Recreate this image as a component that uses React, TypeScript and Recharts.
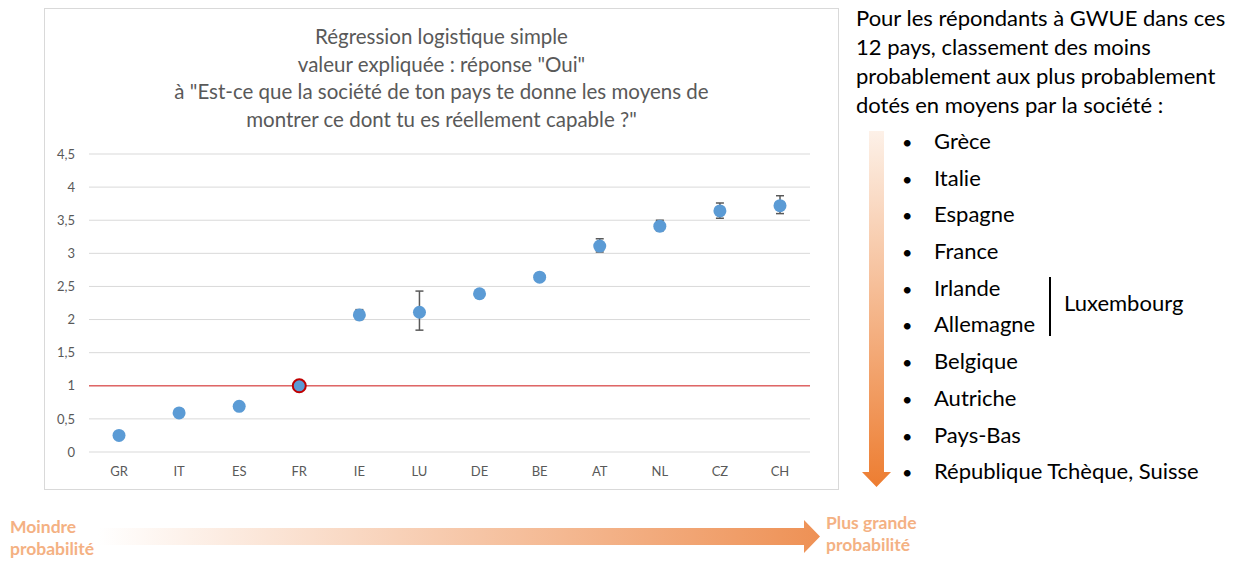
import React from "react";
import {
  ComposedChart,
  Line,
  XAxis,
  YAxis,
  CartesianGrid,
  ReferenceLine,
  ErrorBar,
} from "recharts";

const countries = ["GR", "IT", "ES", "FR", "IE", "LU", "DE", "BE", "AT", "NL", "CZ", "CH"];
const oddsRatios = [0.25, 0.59, 0.69, 1.0, 2.07, 2.11, 2.39, 2.64, 3.11, 3.41, 3.64, 3.72];
const errLow = [0, 0, 0, 0, 0.07, 0.27, 0, 0.04, 0.09, 0.07, 0.11, 0.12];
const errHigh = [0, 0, 0, 0, 0.08, 0.32, 0, 0.06, 0.11, 0.09, 0.12, 0.15];
const yTicks = [0, 0.5, 1, 1.5, 2, 2.5, 3, 3.5, 4, 4.5];

const titleLines = [
  "Régression logistique simple",
  "valeur expliquée : réponse \"Oui\"",
  "à \"Est-ce que la société de ton pays te donne les moyens de",
  "montrer ce dont tu es réellement capable ?\"",
];
const introLines = [
  "Pour les répondants à GWUE dans ces",
  "12 pays, classement des moins",
  "probablement aux plus probablement",
  "dotés en moyens par la société :",
];
const rankedCountries = [
  "Grèce",
  "Italie",
  "Espagne",
  "France",
  "Irlande",
  "Allemagne",
  "Belgique",
  "Autriche",
  "Pays-Bas",
  "République Tchèque, Suisse",
];

const chartData = countries.map((c, i) => ({
  country: c,
  value: oddsRatios[i],
  err: [errLow[i], errHigh[i]],
}));

const FONT = "Lato, 'Open Sans', sans-serif";

function Dot(props: any) {
  const { cx, cy, payload } = props;
  if (cx == null || cy == null) return null;
  const isRef = payload.country === "FR";
  return (
    <circle
      cx={cx}
      cy={cy}
      r={6.5}
      fill="#5B9BD5"
      stroke={isRef ? "#C00000" : "none"}
      strokeWidth={isRef ? 2 : 0}
    />
  );
}

export default function App() {
  return (
    <div
      style={{
        position: "absolute",
        left: 0,
        top: 0,
        width: 1236,
        height: 561,
        background: "#fff",
        fontFamily: FONT,
        overflow: "hidden",
      }}
    >
      {/* chart frame */}
      <div
        style={{
          position: "absolute",
          left: 44,
          top: 8,
          width: 795,
          height: 482,
          border: "1px solid #D9D9D9",
          boxSizing: "border-box",
        }}
      />
      <div style={{ position: "absolute", left: 44, top: 8 }}>
        <ComposedChart
          width={795}
          height={482}
          data={chartData}
          margin={{ top: 146, right: 29, left: 0, bottom: 0 }}
        >
          <CartesianGrid vertical={false} stroke="#D9D9D9" />
          <XAxis
            dataKey="country"
            height={38}
            padding={{ left: 30, right: 30 }}
            axisLine={false}
            tickLine={false}
            tickMargin={9}
            tick={{ fill: "#595959", fontSize: 13, fontFamily: FONT }}
          />
          <YAxis
            width={45}
            domain={[0, 4.5]}
            ticks={yTicks}
            axisLine={false}
            tickLine={false}
            tickMargin={8}
            tickFormatter={(v: number) => String(v).replace(".", ",")}
            tick={{ fill: "#595959", fontSize: 13, fontFamily: FONT }}
          />
          <ReferenceLine y={1} stroke="#E06666" strokeWidth={1.5} />
          <Line
            dataKey="value"
            stroke="none"
            strokeWidth={0}
            dot={<Dot />}
            activeDot={false}
            isAnimationActive={false}
          >
            <ErrorBar dataKey="err" direction="y" width={4} stroke="#595959" strokeWidth={1.5} />
          </Line>
        </ComposedChart>
        <div
          style={{
            position: "absolute",
            left: 0,
            top: 15,
            width: 795,
            textAlign: "center",
            color: "#595959",
            fontSize: 20.5,
            lineHeight: "27.5px",
            whiteSpace: "nowrap",
          }}
        >
          {titleLines.map((t) => (
            <div key={t}>{t}</div>
          ))}
        </div>
      </div>

      {/* right text */}
      <div
        style={{
          position: "absolute",
          left: 856,
          top: 3,
          fontSize: 22,
          lineHeight: "29px",
          color: "#000",
          whiteSpace: "nowrap",
        }}
      >
        {introLines.map((t) => (
          <div key={t}>{t}</div>
        ))}
      </div>
      <div style={{ position: "absolute", left: 902, top: 123, fontSize: 22, color: "#000" }}>
        {rankedCountries.map((t) => (
          <div key={t} style={{ height: 36.7, lineHeight: "36.7px", whiteSpace: "nowrap" }}>
            <span style={{ display: "inline-block", width: 32, fontSize: 18 }}>•</span>
            {t}
          </div>
        ))}
      </div>
      <div
        style={{
          position: "absolute",
          left: 1049,
          top: 277,
          width: 1.5,
          height: 59,
          background: "#000",
        }}
      />
      <div
        style={{
          position: "absolute",
          left: 1064,
          top: 289,
          fontSize: 22,
          lineHeight: "28px",
          color: "#000",
        }}
      >
        Luxembourg
      </div>

      {/* arrows */}
      <svg
        width={1236}
        height={561}
        style={{ position: "absolute", left: 0, top: 0, pointerEvents: "none" }}
      >
        <defs>
          <linearGradient id="vgrad" x1="0" y1="0" x2="0" y2="1">
            <stop offset="0%" stopColor="#FDF1E8" />
            <stop offset="100%" stopColor="#ED7D31" />
          </linearGradient>
          <linearGradient id="hgrad" x1="0" y1="0" x2="1" y2="0">
            <stop offset="0%" stopColor="#FFFFFF" />
            <stop offset="100%" stopColor="#EE9155" />
          </linearGradient>
        </defs>
        <path
          d="M869,131 L884,131 L884,472 L891,472 L876.5,487 L862,472 L869,472 Z"
          fill="url(#vgrad)"
        />
        <path
          d="M98,528 L804,528 L804,520 L820,536.5 L804,553 L804,545 L98,545 Z"
          fill="url(#hgrad)"
        />
      </svg>
      <div
        style={{
          position: "absolute",
          left: 10,
          top: 516,
          fontSize: 17.5,
          fontWeight: 700,
          lineHeight: "22px",
          color: "#F4B183",
        }}
      >
        <div>Moindre</div>
        <div>probabilité</div>
      </div>
      <div
        style={{
          position: "absolute",
          left: 826,
          top: 512,
          fontSize: 17.5,
          fontWeight: 700,
          lineHeight: "22px",
          color: "#F4B183",
        }}
      >
        <div>Plus grande</div>
        <div>probabilité</div>
      </div>
    </div>
  );
}
